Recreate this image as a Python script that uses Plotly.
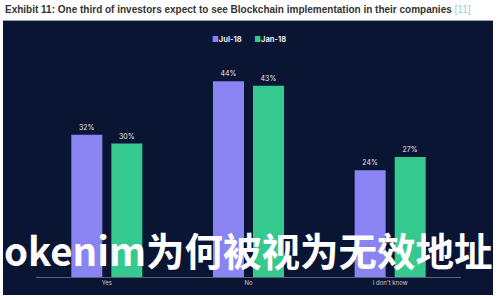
import plotly.graph_objects as go

categories = ["Yes", "No", "I don't know"]
jul18 = [32, 44, 24]
jan18 = [30, 43, 27]
series_names = ["Jul-18", "Jan-18"]
series_colors = ["#8a84f2", "#35c98f"]
title_text = "Exhibit 11: One third of investors expect to see Blockchain implementation in their companies"
ref_text = "[11]"
watermark = "okenim为何被视为无效地址"

W, H = 500, 300
ML, MR, MT, MB = 36, 39, 59, 23
PW, PH = W - ML - MR, H - MT - MB

def px(x):
    return (x - ML) / PW

def py(y):
    return (H - MB - y) / PH

fig = go.Figure()
for name, vals, col in zip(series_names, [jul18, jan18], series_colors):
    fig.add_trace(go.Bar(
        x=categories, y=vals, name=name,
        marker=dict(color=col, line=dict(width=0)),
        text=[f"{v}%" for v in vals], textposition="outside",
        textfont=dict(color="#e8eaf2", size=7, family="Inter"),
        cliponaxis=False, showlegend=False,
    ))

legend_text = "      ".join(
    f"<span style='color:{c}'>■</span><b>{n}</b>" for n, c in zip(series_names, series_colors)
)

fig.update_layout(
    width=W, height=H,
    margin=dict(l=ML, r=MR, t=MT, b=MB, pad=0),
    paper_bgcolor="white",
    plot_bgcolor="rgba(0,0,0,0)",
    barmode="group",
    bargap=0.435,
    bargroupgap=0.225,
    showlegend=False,
    xaxis=dict(
        showgrid=False, showline=True, linecolor="#5a6283", linewidth=1,
        ticks="", tickfont=dict(color="#c8cbd8", size=6, family="Inter"),
        fixedrange=True,
    ),
    yaxis=dict(
        range=[0, 49], visible=False, showgrid=False, zeroline=False,
    ),
    shapes=[
        dict(type="rect", xref="paper", yref="paper",
             x0=px(3), x1=px(493), y0=py(295), y1=py(20),
             fillcolor="#0a1433", line=dict(width=0), layer="below"),
        dict(type="line", xref="paper", yref="paper",
             x0=px(3), x1=px(493), y0=py(20.5), y1=py(20.5),
             line=dict(color="#9aa0b0", width=1), layer="below"),
    ],
    annotations=[
        dict(text="<b>" + title_text + "</b> " + "<span style='color:#8fd3cb'>" + ref_text + "</span>",
             xref="paper", yref="paper", x=px(3), y=py(9),
             xanchor="left", yanchor="middle", showarrow=False,
             font=dict(color="#333333", size=10, family="Liberation Sans")),
        dict(text=legend_text,
             xref="paper", yref="paper", x=px(249), y=py(39),
             xanchor="center", yanchor="middle", showarrow=False,
             font=dict(color="#e8eaf2", size=7.5, family="Inter")),
        dict(text="<b>" + watermark + "</b>",
             xref="paper", yref="paper", x=px(2), y=py(249),
             xanchor="left", yanchor="middle", showarrow=False,
             font=dict(color="white", size=38.5, family="Noto Sans CJK SC")),
    ],
)

fig.write_html("out.html")
